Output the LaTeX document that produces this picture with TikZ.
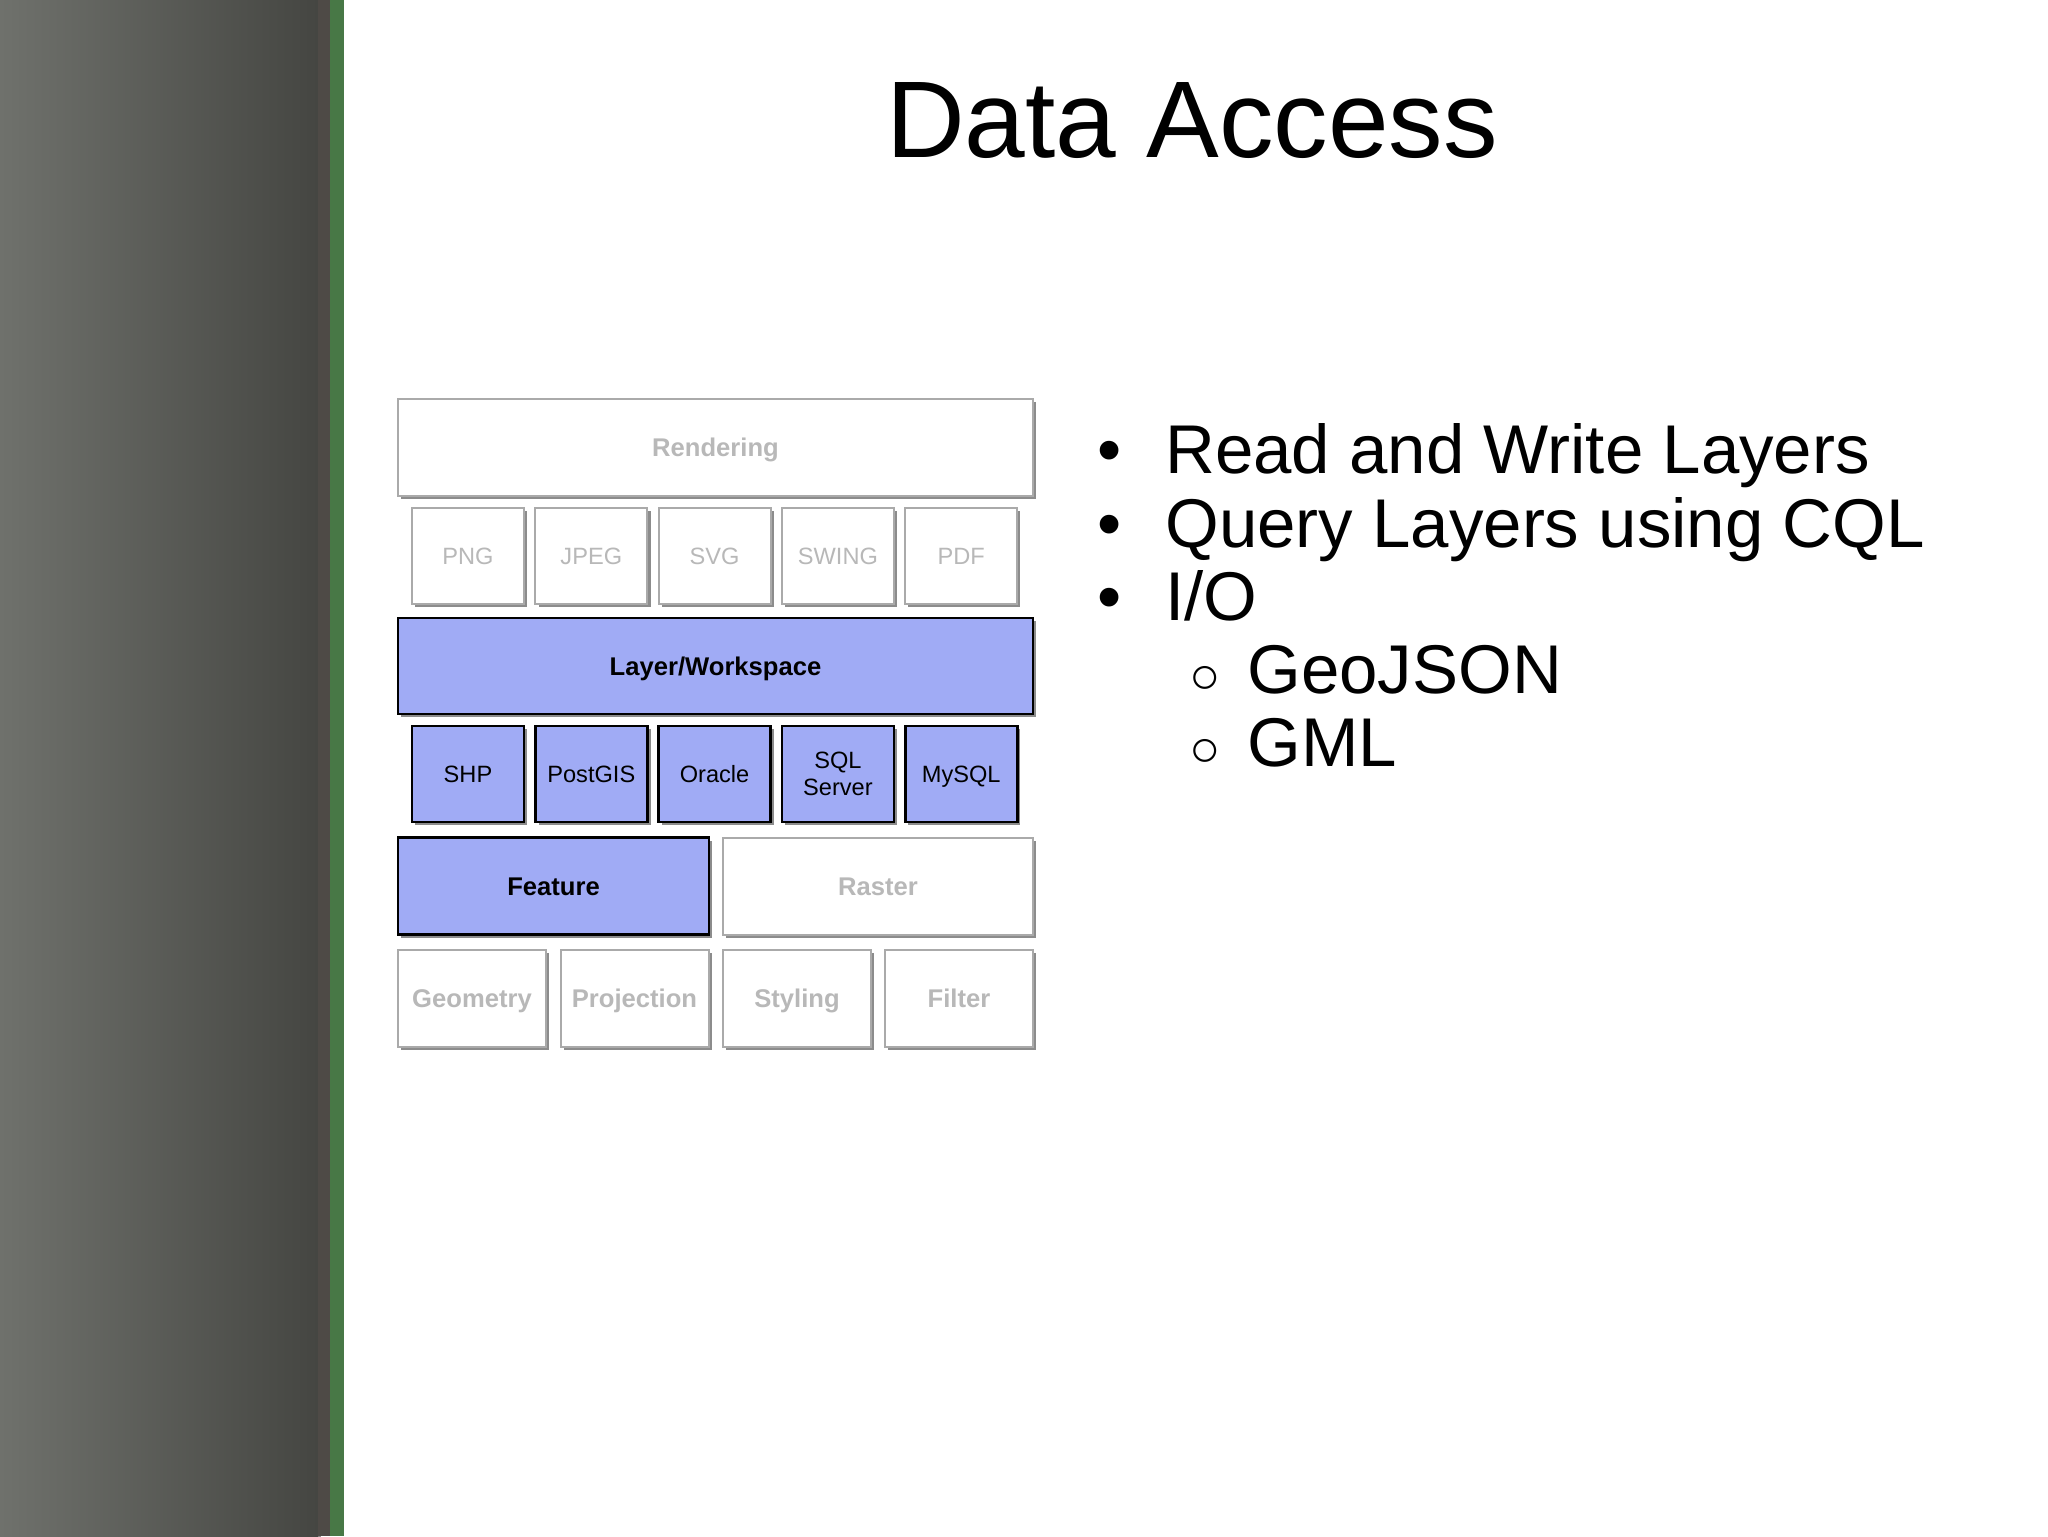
\documentclass[tikz,border=0pt]{standalone}
\usepackage{fontspec}
\setmainfont{Liberation Sans}
\usetikzlibrary{shadows}
\definecolor{panelL}{RGB}{111,113,108}
\definecolor{panelR}{RGB}{69,70,66}
\definecolor{seam}{RGB}{78,74,70}
\definecolor{stripe}{RGB}{72,120,70}
\definecolor{layerblue}{RGB}{160,171,245}
\definecolor{fadetext}{RGB}{184,184,184}
\definecolor{fadeline}{RGB}{170,170,170}
\begin{document}
\begin{tikzpicture}[x=0.5pt,y=-0.5pt,
  shade/.style={drop shadow={shadow xshift=1.6pt,shadow yshift=-1.6pt,fill=black,opacity=.45}},
  offbox/.style={shade,draw=fadeline,line width=1pt,fill=white,text=fadetext,inner sep=0pt,align=center},
  onbox/.style={shade,draw=black,line width=1.3pt,fill=layerblue,text=black,inner sep=0pt,align=center},
  thin/.style={font=\fontsize{11.8pt}{13.7pt}\selectfont,text height=10pt,text depth=1.8pt},
  heavy/.style={font=\fontsize{12.8pt}{15pt}\selectfont\bfseries,text height=11pt,text depth=1.8pt},
  bullet/.style={inner sep=0pt,anchor=base,font=\fontsize{34.5pt}{36.7pt}\selectfont},
  item/.style={inner sep=0pt,anchor=base west,font=\fontsize{34.5pt}{36.7pt}\selectfont}]
\useasboundingbox (0,0) rectangle (2048,1536);
\fill[white] (0,0) rectangle (2048,1536);
% side panel
\shade[left color=panelL,right color=panelR] (0,0) rectangle (318,1536);
\fill[seam] (318,0) rectangle (330,1536);
\fill[stripe] (330,0) rectangle (344,1536);
% title
\node[inner sep=0pt,anchor=base,font=\fontsize{54.5pt}{60pt}\selectfont] (T) at (1192,157) {Data Access};
% layer stack
\node[offbox,heavy,minimum width=317.5pt,minimum height=48.5pt] (Ren) at (715.5,447.5) {Rendering};
\node[offbox,thin,minimum width=56pt,minimum height=48pt] (Out0) at (468,556) {PNG};
\node[offbox,thin,minimum width=56pt,minimum height=48pt] (Out1) at (591.3,556) {JPEG};
\node[offbox,thin,minimum width=56pt,minimum height=48pt] (Out2) at (714.6,556) {SVG};
\node[offbox,thin,minimum width=56pt,minimum height=48pt] (Out3) at (837.9,556) {SWING};
\node[offbox,thin,minimum width=56pt,minimum height=48pt] (Out4) at (961.2,556) {PDF};
\node[onbox,heavy,minimum width=317.5pt,minimum height=48pt] (Lay) at (715.5,666) {Layer/Workspace};
\node[onbox,thin,minimum width=56pt,minimum height=48pt] (Src0) at (468,774) {SHP};
\node[onbox,thin,minimum width=56pt,minimum height=48pt] (Src1) at (591.3,774) {PostGIS};
\node[onbox,thin,minimum width=56pt,minimum height=48pt] (Src2) at (714.6,774) {Oracle};
\node[onbox,thin,text height=23.7pt,minimum width=56pt,minimum height=48pt] (Src3) at (837.9,774) {SQL\\Server};
\node[onbox,thin,minimum width=56pt,minimum height=48pt] (Src4) at (961.2,774) {MySQL};
\node[onbox,heavy,minimum width=155.5pt,minimum height=48.5pt] (Fea) at (553.5,886) {Feature};
\node[offbox,heavy,minimum width=155pt,minimum height=48.5pt] (Ras) at (878,886) {Raster};
\node[offbox,heavy,minimum width=74pt,minimum height=48.5pt] (Mod0) at (472,998) {Geometry};
\node[offbox,heavy,minimum width=74pt,minimum height=48.5pt] (Mod1) at (634.5,998) {Projection};
\node[offbox,heavy,minimum width=74pt,minimum height=48.5pt] (Mod2) at (797,998) {Styling};
\node[offbox,heavy,minimum width=74pt,minimum height=48.5pt] (Mod3) at (959,998) {Filter};
% bullet list
\node[bullet] (B0) at (1110,473) {•};
\node[item] (I0) at (1165,473) {Read and Write Layers};
\node[bullet] (B1) at (1110,547) {•};
\node[item] (I1) at (1165,547) {Query Layers using CQL};
\node[bullet] (B2) at (1110,620) {•};
\node[item] (I2) at (1165,620) {I/O};
\node[bullet,font=\fontsize{26pt}{28pt}\selectfont] (B3) at (1205,693) {○};
\node[item] (I3) at (1247,693) {GeoJSON};
\node[bullet,font=\fontsize{26pt}{28pt}\selectfont] (B4) at (1205,766) {○};
\node[item] (I4) at (1247,766) {GML};
\end{tikzpicture}
\end{document}
